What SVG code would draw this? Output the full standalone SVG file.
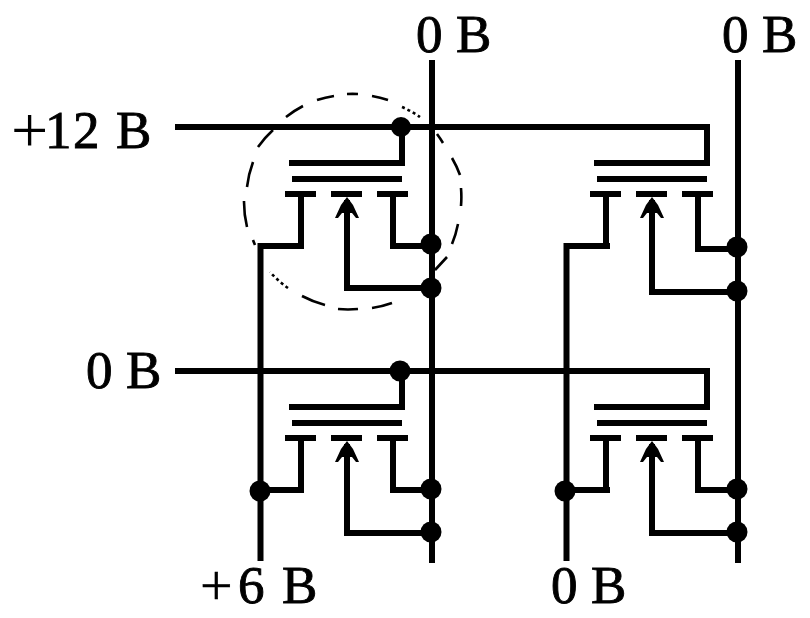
<svg xmlns="http://www.w3.org/2000/svg" width="810" height="618" viewBox="0 0 810 618">
<defs>
<style>
.w{fill:none;stroke:#000;stroke-width:6}
.b{fill:#000;stroke:none}
.t{font-family:"Liberation Serif","Times New Roman",serif;font-size:53px;fill:#000;stroke:#000;stroke-width:.9}
.p{font-size:66px;stroke-width:0}
.q{font-size:58px;stroke-width:.3}
.d{fill:none;stroke:#000;stroke-width:2.6}
</style>
<g id="plates">
<path class="b" d="M289 160h116v6h-116zM292 176h110v6h-110zM285 191h31v6h-31zM331 191h31v6h-31zM377 191h31v6h-31z"/>
<path class="w" d="M301 194V246"/>
<path class="w" d="M393 194V246"/>
<path class="w" d="M347 200V290"/>
<path class="b" d="M347 197L353 205L359 218H356L352 213H342L338 218H335L341 205Z"/>
</g>
</defs>
<rect width="810" height="618" fill="#fff"/>
<g id="connectors">
<path class="w" d="M175 127H707V163"/>
<path class="w" d="M175 371H707V408"/>
<path class="w" d="M402 127V163"/>
<path class="w" d="M402 371V408"/>
<path class="w" d="M432 60V563"/>
<path class="w" d="M738 60V563"/>
<path class="w" d="M304 246H260.500V561"/>
<path class="w" d="M610 246H566.500V561"/>
<path class="w" d="M390 246H432"/>
<path class="w" d="M344 288H432"/>
<path class="w" d="M695 249H738"/>
<path class="w" d="M649 292H738"/>
<path class="w" d="M304 490H260"/>
<path class="w" d="M390 490H432"/>
<path class="w" d="M344 533H432"/>
<path class="w" d="M610 490H566"/>
<path class="w" d="M695 490H738"/>
<path class="w" d="M649 533H738"/>
</g>
<g id="fet1"><use href="#plates"/><circle class="b" cx="401" cy="127" r="10"/><circle class="b" cx="431" cy="244" r="10.500"/><circle class="b" cx="431" cy="288" r="10.500"/></g>
<g id="fet2"><use href="#plates" x="305"/><circle class="b" cx="737" cy="247" r="10.500"/><circle class="b" cx="737" cy="291" r="10.500"/></g>
<g id="fet3"><use href="#plates" y="244"/><circle class="b" cx="400" cy="371" r="10.500"/><circle class="b" cx="260" cy="491" r="10.500"/><circle class="b" cx="431" cy="489" r="10.500"/><circle class="b" cx="431" cy="532" r="10.500"/></g>
<g id="fet4"><use href="#plates" x="305" y="244"/><circle class="b" cx="565" cy="491" r="10.500"/><circle class="b" cx="737" cy="489" r="10.500"/><circle class="b" cx="737" cy="532" r="10.500"/></g>
<g id="dashed-circle">
<path class="d" d="M347 94A108 108 0 0 1 358 94M372 96A108 108 0 0 1 388 100M437 134A108 108 0 0 1 443 143M452 158A108 108 0 0 1 460 175M461 188A108 108 0 0 1 461 206M458 224A108 108 0 0 1 452 244M447 257L435 270M392 303A108 108 0 0 1 372 308M358 309A108 108 0 0 1 338 309M325 305A108 108 0 0 1 302 296M255 245A108 108 0 0 1 253 240M247 227A108 108 0 0 1 244 201M247 187A108 108 0 0 1 253 162M258 147A108 108 0 0 1 273 130M286 117A108 108 0 0 1 303 106M317 100A108 108 0 0 1 334 96"/>
<path class="d" stroke-dasharray="3 3" d="M402 107A108 108 0 0 1 420 117M288 288A108 108 0 0 1 270 272"/>
</g>
<g id="labels">
<text class="t" y="148"><tspan class="p" x="11" dy="4">+</tspan><tspan x="45 73 100 116" dy="-4">12 В</tspan></text>
<text class="t" x="416 440 456" y="52">0 В</text>
<text class="t" x="722 746 762" y="52">0 В</text>
<text class="t" x="86 110 126" y="388">0 В</text>
<text class="t" y="603"><tspan class="q" x="200" dy="2">+</tspan><tspan x="238 270 282" dy="-2">6 В</tspan></text>
<text class="t" x="551 575 591" y="603">0 В</text>
</g>
</svg>
